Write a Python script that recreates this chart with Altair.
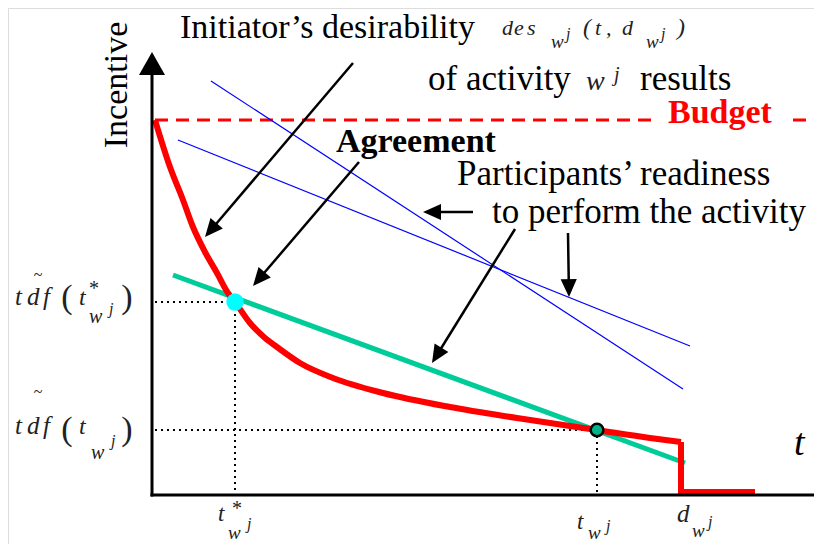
import math
import altair as alt
import pandas as pd

SERIF = "Liberation Serif"

# ---------------- data (diagram coordinates: t to the right, incentive downward in picture units) -------------
# initiator's desirability curve (red)
curve_t = [155, 170, 183, 193, 205, 217, 228, 235, 250, 265, 277, 300, 333, 383, 450, 517, 597, 650, 681]
curve_v = [120, 167, 200, 227, 252, 273, 293, 302, 323, 338, 347, 363, 378, 393, 407, 418, 430, 438, 442]
# drop at the deadline d_wj and zero afterwards
step_t = [681, 681, 755]
step_v = [442, 492, 492]
# agreed readiness line (green)
green_t = [173, 685]
green_v = [275, 463]
# other participants' readiness lines (blue)
blue_t1 = [211, 178]
blue_v1 = [81, 140]
blue_t2 = [683, 690]
blue_v2 = [389, 346]
# budget level (dashed red), split around its label
budget_t1 = [155, 793]
budget_t2 = [655, 830]
budget_v = 120
# agreement points
agree_t = [235, 597]
agree_v = [302, 430]
agree_fill = ["#00FFFF", "#00B386"]
agree_stroke = ["#00FFFF", "#000000"]
# dotted guides
guide_t1 = [155, 235, 155, 597]
guide_v1 = [302, 302, 430, 430]
guide_t2 = [235, 235, 597, 597]
guide_v2 = [302, 495, 430, 495]
# axes
axis_origin = (152, 495)
axis_top = 75
axis_right = 822
axis_tip = 52
# callout arrows: start -> tip
arrow_t0 = [353, 359, 473, 515, 568]
arrow_v0 = [63, 162, 212, 229, 233]
arrow_t1 = [205, 253, 423, 432, 569]
arrow_v1 = [237, 286, 212, 363, 297]

# texts
plain_labels = ["Initiator\u2019s desirability", "of activity", "results",
                "Participants\u2019 readiness", "to perform the activity"]
plain_t = [180, 428, 640, 457, 492]
plain_v = [38, 90, 90, 185, 223]
plain_size = [34, 35, 35, 35, 35]

bold_labels = ["Agreement", "Budget"]
bold_t = [336, 668]
bold_v = [152, 123]
bold_color = ["#000000", "#FF0000"]

# math annotations (italic)
math_labels = ["d", "e", "s", "w", "j", "(", "t", ",", "d", "w", "j", ")",
               "w", "j",
               "t", "d", "f", "t", "w", "j",
               "t", "d", "f", "t", "w", "j",
               "t", "w", "j",
               "t", "w", "j",
               "d", "w", "j"]
math_t = [502, 514, 527, 551, 566, 583, 595, 606, 622, 646, 661, 677,
          586, 614,
          15, 27, 43, 79, 89, 109,
          15, 27, 43, 79, 91, 111,
          218, 228, 247,
          577, 588, 606,
          677, 692, 708]
math_v = [35, 35, 35, 48, 39, 35, 35, 35, 35, 48, 39, 35,
          90, 81,
          305, 305, 305, 305, 323, 314,
          434, 434, 434, 434, 459, 446,
          521, 539, 529,
          529, 539, 531,
          522, 537, 527]
math_size = [22, 22, 22, 19, 16, 24, 22, 22, 22, 19, 16, 24,
             28, 20,
             25, 25, 25, 24, 20, 16,
             25, 25, 25, 24, 20, 16,
             23, 19, 16,
             23, 19, 16,
             25, 19, 16]

upright_labels = ["~", "(", "*", ")", "~", "(", ")", "*"]
upright_t = [38, 67, 94, 127, 38, 67, 127, 237]
upright_v = [275, 298, 289, 298, 392, 430, 430, 509]
upright_size = [16, 34, 20, 34, 16, 34, 34, 20]

# ---------------- scales ----------------
XS = alt.Scale(domain=[8, 814], nice=False, zero=False)
YS = alt.Scale(domain=[8, 544], nice=False, zero=False, reverse=True)


def X(f="x"):
    return alt.X(f"{f}:Q", scale=XS, axis=None)


def Y(f="y"):
    return alt.Y(f"{f}:Q", scale=YS, axis=None)


def segs(x1, y1, x2, y2):
    return pd.DataFrame({"x": x1, "y": y1, "x2": x2, "y2": y2})


def rule_layer(df, **kw):
    return alt.Chart(df).mark_rule(**kw).encode(
        x=X("x"), y=Y("y"), x2=alt.X2("x2"), y2=alt.Y2("y2"))


# axes
ox, oy = axis_origin
axes = rule_layer(segs([ox, ox - 1.5], [axis_top, oy], [ox, axis_right], [oy + 1.5, oy]),
                  color="black", strokeWidth=3)
axis_head = alt.Chart(pd.DataFrame({"x": [ox], "y": [(axis_tip + axis_top) / 2]})).mark_point(
    shape="M0,-1L-1.13,1L1.13,1Z", filled=True, color="black", opacity=1, size=(axis_top - axis_tip) ** 2
).encode(x=X(), y=Y())

# budget
budget = rule_layer(segs(budget_t1, [budget_v] * 2, budget_t2, [budget_v] * 2),
                    color="#FF0000", strokeWidth=3, strokeDash=[13, 8])

# blue lines
blue = rule_layer(segs(blue_t1, blue_v1, blue_t2, blue_v2), color="#0000FF", strokeWidth=1.2)

# dotted guides
guides = rule_layer(segs(guide_t1, guide_v1, guide_t2, guide_v2),
                    color="black", strokeWidth=2, strokeDash=[2, 4])

# red curve
curve_df = pd.DataFrame({"x": curve_t, "y": curve_v, "o": range(len(curve_t))})
curve = alt.Chart(curve_df).mark_line(color="#FF0000", strokeWidth=6, interpolate="monotone").encode(
    x=X(), y=Y(), order="o:Q")
step_df = pd.DataFrame({"x": step_t, "y": step_v, "o": range(len(step_t))})
step = alt.Chart(step_df).mark_line(color="#FF0000", strokeWidth=6, strokeJoin="miter").encode(
    x=X(), y=Y(), order="o:Q")

# green line
green = rule_layer(segs([green_t[0]], [green_v[0]], [green_t[1]], [green_v[1]]),
                   color="#00CC99", strokeWidth=5)

# agreement points
pts_df = pd.DataFrame({"x": agree_t, "y": agree_v, "f": agree_fill, "s": agree_stroke,
                       "sz": [220, 160]})
points = alt.Chart(pts_df).mark_point(shape="circle", filled=True, opacity=1, strokeWidth=2.5).encode(
    x=X(), y=Y(), fill=alt.Fill("f:N", scale=None), stroke=alt.Stroke("s:N", scale=None),
    size=alt.Size("sz:Q", scale=None))

# arrows
HEAD_R = 9.0
rows_l, rows_h = [], []
for x0, y0, x1, y1 in zip(arrow_t0, arrow_v0, arrow_t1, arrow_v1):
    dx, dy = x1 - x0, y1 - y0
    L = math.hypot(dx, dy)
    ux, uy = dx / L, dy / L
    rows_l.append({"x": x0, "y": y0, "x2": x1 - ux * HEAD_R * 1.6, "y2": y1 - uy * HEAD_R * 1.6})
    ang = math.degrees(math.atan2(dx, -dy)) % 360
    rows_h.append({"x": x1 - ux * HEAD_R, "y": y1 - uy * HEAD_R, "a": ang})
arrow_lines = rule_layer(pd.DataFrame(rows_l), color="black", strokeWidth=2.5)
arrow_heads = alt.Chart(pd.DataFrame(rows_h)).mark_point(
    shape="M0,-1L-0.9,1L0.9,1Z", filled=True, color="black", opacity=1, size=(2 * HEAD_R) ** 2
).encode(x=X(), y=Y(), angle=alt.Angle("a:Q", scale=None))

# texts
plain = alt.Chart(pd.DataFrame({"x": plain_t, "y": plain_v, "label": plain_labels,
                                "s": plain_size})).mark_text(
    align="left", baseline="alphabetic", font=SERIF, color="black"
).encode(x=X(), y=Y(), text="label:N", size=alt.Size("s:Q", scale=None))

bold = alt.Chart(pd.DataFrame({"x": bold_t, "y": bold_v, "label": bold_labels, "c": bold_color})).mark_text(
    align="left", baseline="alphabetic", font=SERIF, fontSize=34, fontWeight="bold"
).encode(x=X(), y=Y(), text="label:N", color=alt.Color("c:N", scale=None))

incentive = alt.Chart(pd.DataFrame({"x": [127], "y": [85], "label": ["Incentive"]})).mark_text(
    align="center", baseline="alphabetic", font=SERIF, fontSize=34, angle=270, color="black"
).encode(x=X(), y=Y(), text="label:N")

t_label = alt.Chart(pd.DataFrame({"x": [794], "y": [455], "label": ["t"]})).mark_text(
    align="left", baseline="alphabetic", font=SERIF, fontSize=38, fontStyle="italic", color="black"
).encode(x=X(), y=Y(), text="label:N")

math_df = pd.DataFrame({"x": math_t, "y": math_v, "label": math_labels, "s": math_size})
math_txt = alt.Chart(math_df).mark_text(
    align="left", baseline="alphabetic", font=SERIF, fontStyle="italic", color="#222222"
).encode(x=X(), y=Y(), text="label:N", size=alt.Size("s:Q", scale=None))

up_df = pd.DataFrame({"x": upright_t, "y": upright_v, "label": upright_labels, "s": upright_size})
up_txt = alt.Chart(up_df).mark_text(
    align="center", baseline="middle", font=SERIF, color="#222222"
).encode(x=X(), y=Y(), text="label:N", size=alt.Size("s:Q", scale=None))

chart = alt.layer(
    budget, blue, guides, green, curve, step, axes, axis_head, arrow_lines, arrow_heads,
    points, plain, bold, incentive, t_label, math_txt, up_txt
).properties(
    width=806, height=536, padding=0, autosize=alt.AutoSizeParams(type="none")
).configure_view(stroke=None).configure(background="white")

chart.save("out.html", embed_options={"renderer": "svg", "actions": False})
